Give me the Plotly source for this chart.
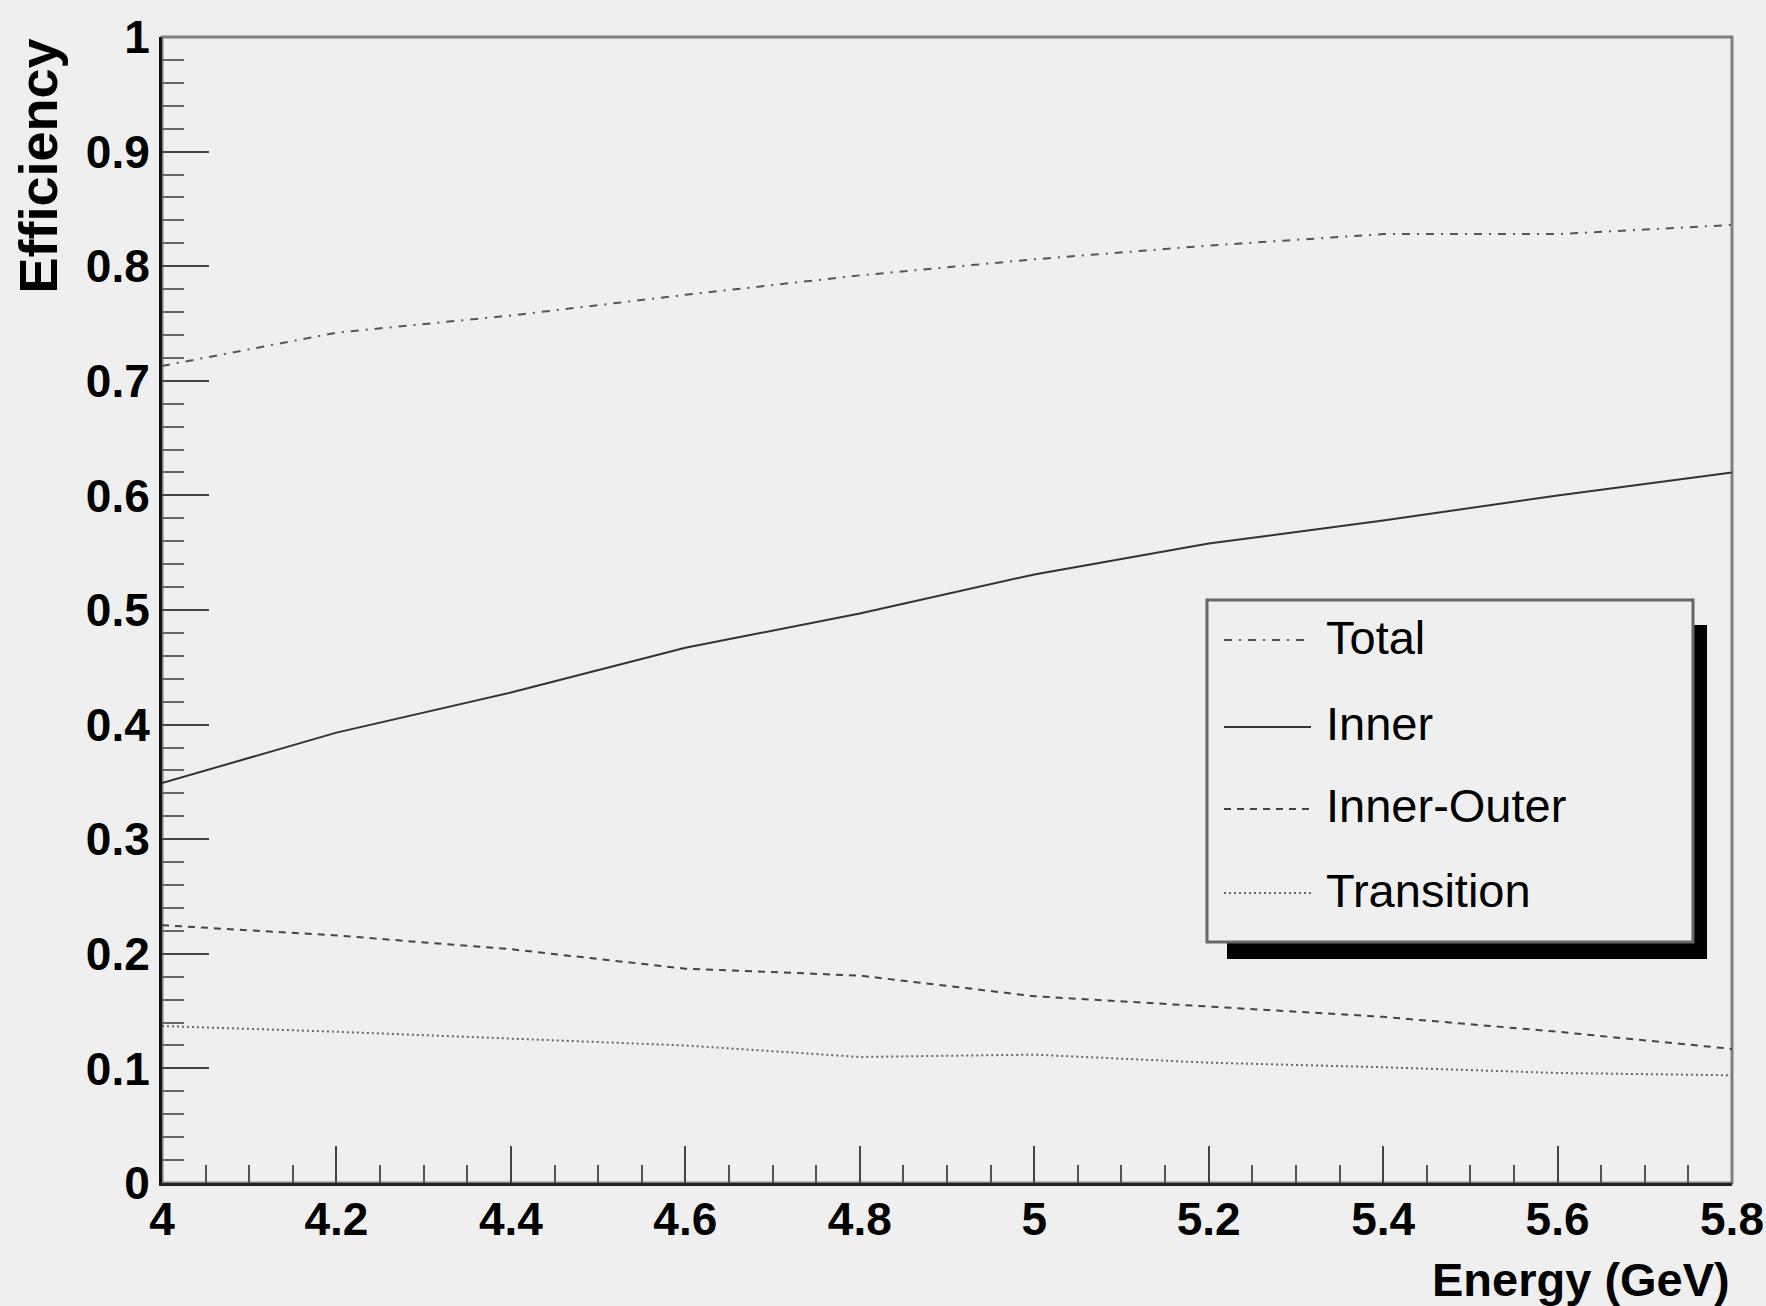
import plotly.graph_objects as go

# Beam energy grid (GeV)
energy = [4.0, 4.2, 4.4, 4.6, 4.8, 5.0, 5.2, 5.4, 5.6, 5.8]

# Efficiencies per category
eff_total = [0.713, 0.742, 0.757, 0.775, 0.792, 0.806, 0.818, 0.828, 0.828, 0.836]
eff_inner = [0.349, 0.393, 0.428, 0.467, 0.497, 0.531, 0.558, 0.578, 0.600, 0.620]
eff_inner_outer = [0.225, 0.216, 0.204, 0.187, 0.181, 0.163, 0.154, 0.145, 0.132, 0.117]
eff_transition = [0.137, 0.132, 0.126, 0.120, 0.110, 0.112, 0.105, 0.101, 0.096, 0.094]

# Axis tick labels
x_tick_vals = [4.0, 4.2, 4.4, 4.6, 4.8, 5.0, 5.2, 5.4, 5.6, 5.8]
x_tick_text = ["4", "4.2", "4.4", "4.6", "4.8", "5", "5.2", "5.4", "5.6", "5.8"]
y_tick_vals = [0, 0.1, 0.2, 0.3, 0.4, 0.5, 0.6, 0.7, 0.8, 0.9, 1.0]
y_tick_text = ["0", "0.1", "0.2", "0.3", "0.4", "0.5", "0.6", "0.7", "0.8", "0.9", "1"]

series_names = ["Total", "Inner", "Inner-Outer", "Transition"]
series_values = [eff_total, eff_inner, eff_inner_outer, eff_transition]
series_dash = ["8px,7px,2px,7px", "solid", "7px,6px", "2px,3px"]
series_color = ["#555555", "#333333", "#444444", "#666666"]
series_width = [2, 2, 2, 2]

W, H = 1766, 1306
L, R, T, B = 162, 34, 37, 123
PW, PH = W - L - R, H - T - B


def px_x(p):
    return (p - L) / PW


def px_y(p):
    return (H - B - p) / PH


BG = "#efefef"
FONT = "Liberation Sans, Arial, Helvetica, sans-serif"

fig = go.Figure()
for name, vals, dash, col, w in zip(series_names, series_values, series_dash,
                                    series_color, series_width):
    fig.add_trace(go.Scatter(x=energy, y=vals, mode="lines", name=name,
                             line=dict(color=col, width=w, dash=dash),
                             showlegend=False, hoverinfo="x+y+name"))

shapes = []
# plot frame (top/right sides lighter)
shapes.append(dict(type="rect", xref="paper", yref="paper", x0=0, x1=1, y0=0, y1=1,
                   line=dict(color="#808080", width=3), layer="below"))

# legend box with drop shadow
lx0, lx1, ly0, ly1 = 1207, 1693, 600, 942
sx0, sx1, sy0, sy1 = 1227, 1707, 625, 959
shapes.append(dict(type="rect", xref="paper", yref="paper",
                   x0=px_x(sx0), x1=px_x(sx1), y0=px_y(sy1), y1=px_y(sy0),
                   fillcolor="black", line=dict(color="black", width=0), layer="above"))
shapes.append(dict(type="rect", xref="paper", yref="paper",
                   x0=px_x(lx0), x1=px_x(lx1), y0=px_y(ly1), y1=px_y(ly0),
                   fillcolor=BG, line=dict(color="#666666", width=3), layer="above"))

annotations = []
row_y = [637, 724, 806, 890]
for name, dash, col, w, yy in zip(series_names, series_dash, series_color,
                                  series_width, row_y):
    shapes.append(dict(type="line", xref="paper", yref="paper",
                       x0=px_x(1224), x1=px_x(1311), y0=px_y(yy + 3), y1=px_y(yy + 3),
                       line=dict(color=col, width=w, dash=dash), layer="above"))
    annotations.append(dict(text=name, xref="paper", yref="paper",
                            x=px_x(1324), y=px_y(yy), xanchor="left", yanchor="middle",
                            showarrow=False,
                            font=dict(family=FONT, size=47, color="black")))

# axis titles
annotations.append(dict(text="<b>Efficiency</b>", xref="paper", yref="paper",
                        x=px_x(37), y=1.0, xanchor="center", yanchor="top",
                        textangle=-90, showarrow=False,
                        font=dict(family=FONT, size=54, color="black")))
annotations.append(dict(text="<b>Energy (GeV)</b>", xref="paper", yref="paper",
                        x=1.0, y=px_y(1279), xanchor="right", yanchor="middle",
                        showarrow=False,
                        font=dict(family=FONT, size=47, color="black")))

tickfont = dict(family=FONT, size=46, color="black", weight="bold")

fig.update_layout(
    width=W, height=H,
    margin=dict(l=L, r=R, t=T, b=B, pad=0, autoexpand=False),
    paper_bgcolor=BG, plot_bgcolor=BG,
    shapes=shapes, annotations=annotations,
    xaxis=dict(range=[4, 5.8], tickmode="array", tickvals=x_tick_vals,
               ticktext=x_tick_text, showgrid=False, zeroline=False, automargin=False,
               showline=True, linecolor="#222222", linewidth=3,
               ticks="inside", ticklen=37, tickwidth=2, tickcolor="#444444",
               minor=dict(dtick=0.05, tick0=4, ticks="inside", ticklen=18, tickwidth=2,
                          tickcolor="#555555", showgrid=False),
               tickfont=tickfont, ticklabelstandoff=-6),
    yaxis=dict(range=[0, 1], tickmode="array", tickvals=y_tick_vals,
               ticktext=y_tick_text, showgrid=False, zeroline=False, automargin=False,
               showline=True, linecolor="#111111", linewidth=3,
               ticks="inside", ticklen=47, tickwidth=2, tickcolor="#444444",
               minor=dict(dtick=0.02, tick0=0, ticks="inside", ticklen=22, tickwidth=2,
                          tickcolor="#666666", showgrid=False),
               tickfont=tickfont, ticklabelstandoff=0),
)

fig.write_html("out.html")
